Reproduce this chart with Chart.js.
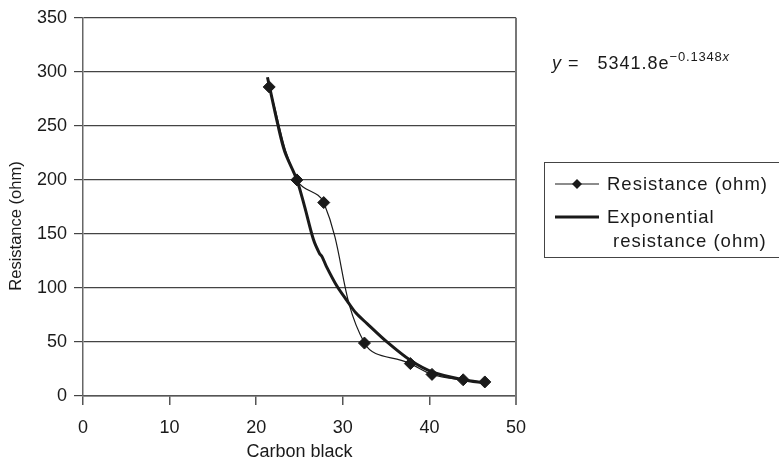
<!DOCTYPE html>
<html>
<head>
<meta charset="utf-8">
<script src="https://cdn.jsdelivr.net/npm/chart.js@4.4.1/dist/chart.umd.min.js"></script>
<style>
  body { margin: 0; background: #fff; }
  #wrap { position: relative; width: 779px; height: 468px; }
  .txt { position: absolute; font-family: "Liberation Sans", Arial, sans-serif; color: #1a1a1a; white-space: nowrap; }
  #eq { left: 552px; top: 50px; font-size: 18px; letter-spacing: 1px; }
  #eq sup { font-size: 13px; letter-spacing: 0.8px; position: relative; top: -1px; }
  #legend { position: absolute; left: 544px; top: 162px; width: 260px; height: 96px; border: 1.5px solid #444; box-sizing: border-box; }
  .lg { font-size: 18.5px; letter-spacing: 1px; }
</style>
</head>
<body>
<div id="wrap">
  <canvas id="myChart" width="779" height="468"></canvas>
  <div class="txt" id="eq"><i>y</i> =&nbsp;&nbsp; 5341.8e<sup>&minus;0.1348<i>x</i></sup></div>
  <div id="legend">
    <svg width="60" height="96" style="position:absolute;left:0;top:0">
      <line x1="10" y1="21" x2="54" y2="21" stroke="#1a1a1a" stroke-width="1.2"/>
      <polygon points="32,16 37,21 32,26 27,21" fill="#1a1a1a"/>
      <line x1="10" y1="54" x2="54" y2="54" stroke="#1a1a1a" stroke-width="3"/>
    </svg>
    <div class="txt lg" style="left:62px;top:10px">Resistance (ohm)</div>
    <div class="txt lg" style="left:62px;top:43px">Exponential</div>
    <div class="txt lg" style="left:68px;top:67px">resistance (ohm)</div>
  </div>
</div>
<script>
// DATOS
const carbonBlack = [21.5, 24.7, 27.8, 32.5, 37.8, 40.3, 43.9, 46.4];
const resistance = [286, 200, 179, 49, 30, 20, 15, 13];
// linea de tendencia
const trendX = [21.3, 22.5, 23.3, 24.7, 25.6, 26.6, 27.3, 27.6, 28.1, 29.3, 30.5, 31.5, 32.8, 35.1, 37.8, 40.4, 43.9, 46.4];
const trendY = [295, 251, 226, 200, 175, 145, 132, 129, 120, 102, 88, 77, 67, 50, 33, 22, 15, 12];
const xTicks = [0, 10, 20, 30, 40, 50];
const yTicks = [0, 50, 100, 150, 200, 250, 300, 350];

Chart.defaults.font.family = "'Liberation Sans', Arial, sans-serif";
Chart.defaults.font.size = 18;
Chart.defaults.color = "#1a1a1a";

// borde derecho + titulo del eje Y (un poco bajo del centro, como el original)
const extras = {
  id: "extras",
  afterDraw(chart) {
    const { ctx, chartArea } = chart;
    ctx.save();
    ctx.strokeStyle = "#777";
    ctx.lineWidth = 2;
    ctx.beginPath();
    ctx.moveTo(chartArea.right, chartArea.top);
    ctx.lineTo(chartArea.right, chartArea.bottom + 9);
    ctx.stroke();
    ctx.translate(16, 226);
    ctx.rotate(-Math.PI / 2);
    ctx.fillStyle = "#1a1a1a";
    ctx.font = "16.5px 'Liberation Sans', Arial, sans-serif";
    ctx.textAlign = "center";
    ctx.textBaseline = "middle";
    ctx.fillText("Resistance (ohm)", 0, 0);
    ctx.restore();
  },
};

const cChart = document.getElementById("myChart");
new Chart(cChart, {
  type: "scatter",
  data: {
    datasets: [
      {
        label: "Resistance (ohm)",
        data: carbonBlack.map((x, i) => ({ x: x, y: resistance[i] })),
        showLine: true,
        tension: 0.4,
        borderColor: "#1a1a1a",
        borderWidth: 1.2,
        pointStyle: "rectRot",
        pointRadius: 6,
        pointBackgroundColor: "#1a1a1a",
        pointBorderColor: "#1a1a1a",
        pointBorderWidth: 1,
      },
      {
        label: "Exponential resistance (ohm)",
        data: trendX.map((x, i) => ({ x: x, y: trendY[i] })),
        showLine: true,
        tension: 0.3,
        borderColor: "#1a1a1a",
        borderWidth: 3,
        pointRadius: 0,
      },
    ],
  },
  options: {
    responsive: false,
    animation: false,
    devicePixelRatio: 1,
    layout: { padding: { left: 0, top: 15, right: 263, bottom: 0 } },
    plugins: {
      legend: { display: false },
      tooltip: { enabled: false },
    },
    scales: {
      x: {
        type: "linear",
        min: 0,
        max: 50,
        afterFit: (scale) => { scale.height = 72; },
        afterBuildTicks: (scale) => { scale.ticks = xTicks.map((v) => ({ value: v })); },
        ticks: { padding: 12 },
        grid: { drawOnChartArea: false, tickLength: 9, color: "#555", lineWidth: 1.5 },
        border: { color: "#555", width: 1.5 },
        title: { display: true, text: "Carbon black", padding: { top: 0, bottom: 5 } },
      },
      y: {
        min: 0,
        max: 350,
        afterFit: (scale) => { scale.width = 83; },
        afterBuildTicks: (scale) => { scale.ticks = yTicks.map((v) => ({ value: v })); },
        ticks: { padding: 7 },
        grid: { tickLength: 9, color: "#444", lineWidth: 1.2 },
        border: { color: "#666", width: 1.5 },
      },
    },
  },
  plugins: [extras],
});
</script>
</body>
</html>
